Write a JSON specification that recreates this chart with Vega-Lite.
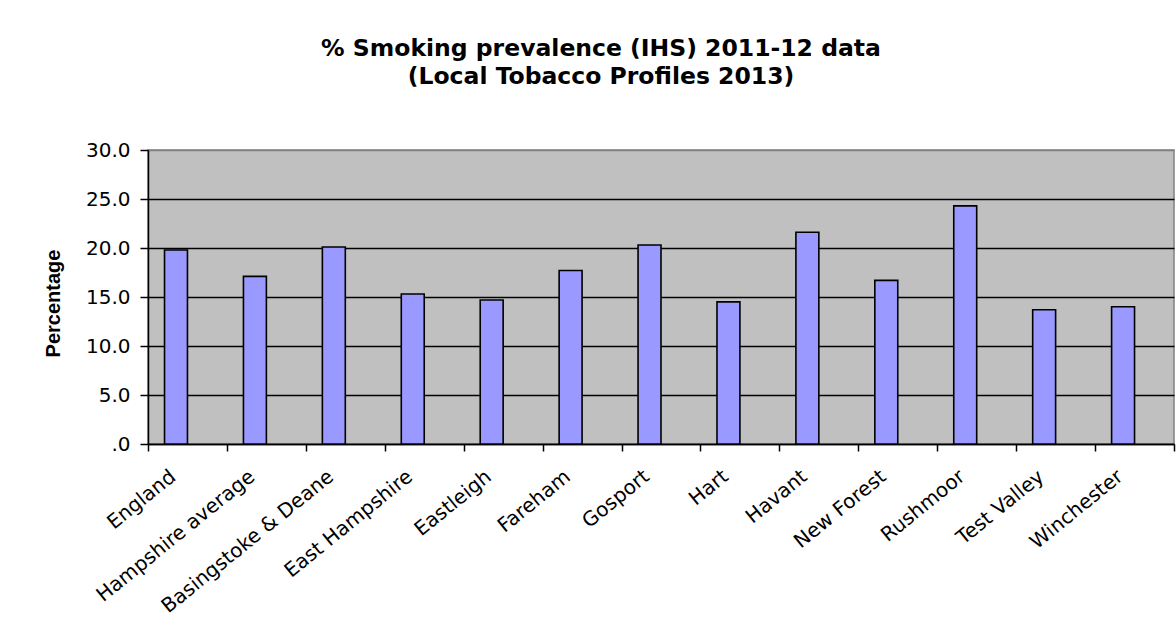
{
  "$schema": "https://vega.github.io/schema/vega-lite/v6.json",
  "autosize": {"type": "none"},
  "padding": {"left": 148, "top": 150, "right": 2, "bottom": 193},
  "width": 1026,
  "height": 294,
  "background": "white",
  "title": {
    "text": ["% Smoking prevalence (IHS) 2011-12 data", "(Local Tobacco Profiles 2013)"],
    "font": "DejaVu Sans",
    "fontSize": 23.5,
    "fontWeight": "bold",
    "color": "black",
    "lineHeight": 28,
    "anchor": "middle",
    "frame": "group",
    "offset": 52,
    "dx": -60
  },
  "data": {
    "values": [
      {"area": "England", "series": "Smoking prevalence", "pct": 19.8},
      {"area": "Hampshire average", "series": "Smoking prevalence", "pct": 17.1},
      {"area": "Basingstoke & Deane", "series": "Smoking prevalence", "pct": 20.1},
      {"area": "East Hampshire", "series": "Smoking prevalence", "pct": 15.3},
      {"area": "Eastleigh", "series": "Smoking prevalence", "pct": 14.7},
      {"area": "Fareham", "series": "Smoking prevalence", "pct": 17.7},
      {"area": "Gosport", "series": "Smoking prevalence", "pct": 20.3},
      {"area": "Hart", "series": "Smoking prevalence", "pct": 14.5},
      {"area": "Havant", "series": "Smoking prevalence", "pct": 21.6},
      {"area": "New Forest", "series": "Smoking prevalence", "pct": 16.7},
      {"area": "Rushmoor", "series": "Smoking prevalence", "pct": 24.3},
      {"area": "Test Valley", "series": "Smoking prevalence", "pct": 13.7},
      {"area": "Winchester", "series": "Smoking prevalence", "pct": 14.0}
    ]
  },
  "mark": {"type": "bar", "fill": "#9999FF", "stroke": "black", "strokeWidth": 1.6},
  "encoding": {
    "x": {
      "field": "area",
      "type": "nominal",
      "sort": null,
      "scale": {"paddingInner": 0, "paddingOuter": 0},
      "axis": {
        "title": null,
        "domainColor": "black",
        "domainWidth": 1.5,
        "tickBand": "extent",
        "tickColor": "black",
        "tickWidth": 1.5,
        "tickSize": 7,
        "labelAngle": -39,
        "labelAlign": "right",
        "labelBaseline": "top",
        "labelOffset": -21,
        "labelPadding": 15,
        "labelFont": "DejaVu Sans",
        "labelFontSize": 20,
        "labelColor": "black",
        "labelOverlap": false,
        "labelLimit": 400
      }
    },
    "xOffset": {
      "field": "series",
      "type": "nominal",
      "scale": {"domain": ["Smoking prevalence", "Second series"], "paddingInner": 0, "paddingOuter": 0.72}
    },
    "y": {
      "field": "pct",
      "type": "quantitative",
      "scale": {"domain": [0, 30], "nice": false},
      "axis": {
        "title": "Percentage",
        "titleFont": "Liberation Sans",
        "titleFontSize": 20,
        "titleFontWeight": "bold",
        "titleColor": "black",
        "titlePadding": 22,
        "titleY": 153,
        "values": [0, 5, 10, 15, 20, 25, 30],
        "labelExpr": "datum.value == 0 ? '.0' : format(datum.value, '.1f')",
        "labelFont": "DejaVu Sans",
        "labelFontSize": 20,
        "labelColor": "black",
        "labelPadding": 10,
        "domainColor": "black",
        "domainWidth": 1.5,
        "tickColor": "black",
        "tickWidth": 1.5,
        "tickSize": 8,
        "grid": true,
        "gridColor": {"condition": {"test": "datum.value == 30", "value": "#808080"}, "value": "black"},
        "gridWidth": 1.5
      }
    }
  },
  "config": {
    "view": {"fill": "#C0C0C0", "stroke": "#808080", "strokeWidth": 1.5}
  }
}
